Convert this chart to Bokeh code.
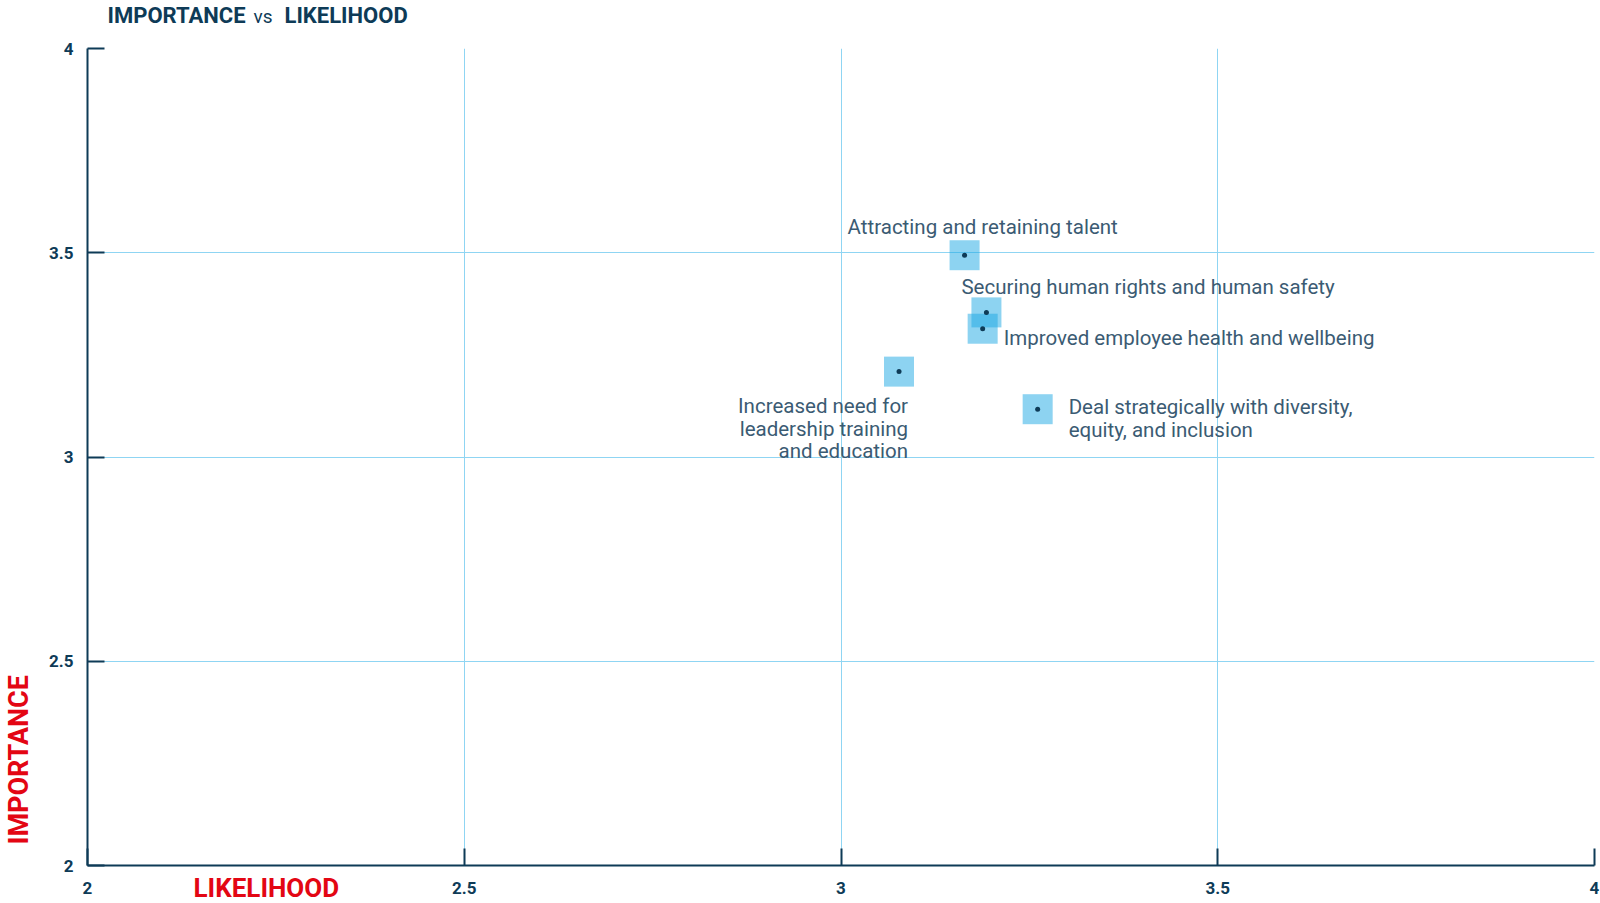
import math
from bokeh.plotting import figure
from bokeh.models import ColumnDataSource, FixedTicker, Range1d, Label, Title
from bokeh.core.properties import value
from bokeh.embed import file_html
from bokeh.resources import INLINE

# ---- data ----
topics = [
    "Attracting and retaining talent",
    "Securing human rights and human safety",
    "Improved employee health and wellbeing",
    "Increased need for\nleadership training\nand education",
    "Deal strategically with diversity,\nequity, and inclusion",
]
likelihood = [3.164, 3.193, 3.188, 3.077, 3.261]
importance = [3.494, 3.354, 3.314, 3.209, 3.117]
ticks = [2, 2.5, 3, 3.5, 4]

# label placement (screen pixels relative to each point)
lab_dx = [-117, -25, 21, 9, 31]
lab_dy = [-28, -25, 9, 57, 9]
lab_align = ["left", "left", "left", "right", "left"]

DARK = "#0e3b57"
RED = "#e30613"
GRID = "#8fd5f3"
TEXT = "#3b5b73"

W, H = 1600, 903
BL, BR, BT, BB = 87, 6, 48, 38

src = ColumnDataSource(dict(x=likelihood, y=importance, t=topics,
                            dx=lab_dx, dy=lab_dy, al=lab_align))

p = figure(width=W, height=H, output_backend="svg", toolbar_location=None,
           x_range=Range1d(2, 4), y_range=Range1d(2, 4),
           min_border_left=BL, min_border_right=BR, min_border_top=BT,
           min_border_bottom=BB)
p.outline_line_color = None
p.background_fill_color = "white"
p.border_fill_color = "white"

for ax in (p.xaxis[0], p.yaxis[0]):
    ax.ticker = FixedTicker(ticks=ticks)
    ax.axis_line_color = DARK
    ax.axis_line_width = 2
    ax.major_tick_line_color = DARK
    ax.major_tick_line_width = 2
    ax.major_tick_in = 17
    ax.major_tick_out = 0
    ax.minor_tick_line_color = None
    ax.major_label_text_color = DARK
    ax.major_label_text_font = "Roboto"
    ax.major_label_text_font_style = "bold"
    ax.major_label_text_font_size = "17px"
p.xaxis.major_label_standoff = 16
p.yaxis.major_label_standoff = 14
p.xaxis.major_label_overrides = {2: "2", 2.5: "2.5", 3: "3", 3.5: "3.5", 4: "4"}
p.yaxis.major_label_overrides = {2: "2", 2.5: "2.5", 3: "3", 3.5: "3.5", 4: "4"}

p.grid.grid_line_color = GRID
p.grid.grid_line_width = 1

p.scatter("x", "y", source=src, marker="square", size=30,
          fill_color="#1ba7e3", fill_alpha=0.5, line_color=None)
p.scatter("x", "y", source=src, marker="circle", size=5,
          fill_color=DARK, line_color=None)

p.text("x", "y", text="t", source=src, x_offset="dx", y_offset="dy",
       text_align="al", text_baseline="middle",
       text_font=value("Roboto"), text_font_size="20.5px",
       text_color=TEXT, text_line_height=0.95)

# ---- chart title, in the top side panel ----
t1 = Label(x=20, y=33, x_units="screen", y_units="screen", text="IMPORTANCE",
           text_font="Roboto", text_font_style="bold", text_font_size="22px",
           text_color=DARK, text_baseline="middle", text_align="left")
t2 = Label(x=166, y=7, x_units="screen", y_units="screen", text="vs",
           text_font="Roboto", text_font_style="normal", text_font_size="19px",
           text_color=DARK, text_baseline="middle", text_align="left")
t3 = Title(text="LIKELIHOOD", align="left", offset=197, standoff=-55,
           vertical_align="bottom", text_font="Roboto", text_font_style="bold",
           text_font_size="22px", text_color=DARK)
p.above = list(p.above) + [t1, t2, t3]

# ---- axis titles ----
xt = Title(text="LIKELIHOOD", align="left", offset=106, standoff=-47,
           vertical_align="top", text_font="Roboto", text_font_style="bold",
           text_font_size="26px", text_color=RED)
p.below = list(p.below) + [xt]

yt = Label(x=4, y=21, x_units="screen", y_units="screen", text="IMPORTANCE",
           angle=math.pi / 2, text_font="Roboto", text_font_style="bold",
           text_font_size="27px", text_color=RED,
           text_baseline="middle", text_align="left")
p.left = list(p.left) + [yt]

open("out.html", "w").write(file_html(p, INLINE))
